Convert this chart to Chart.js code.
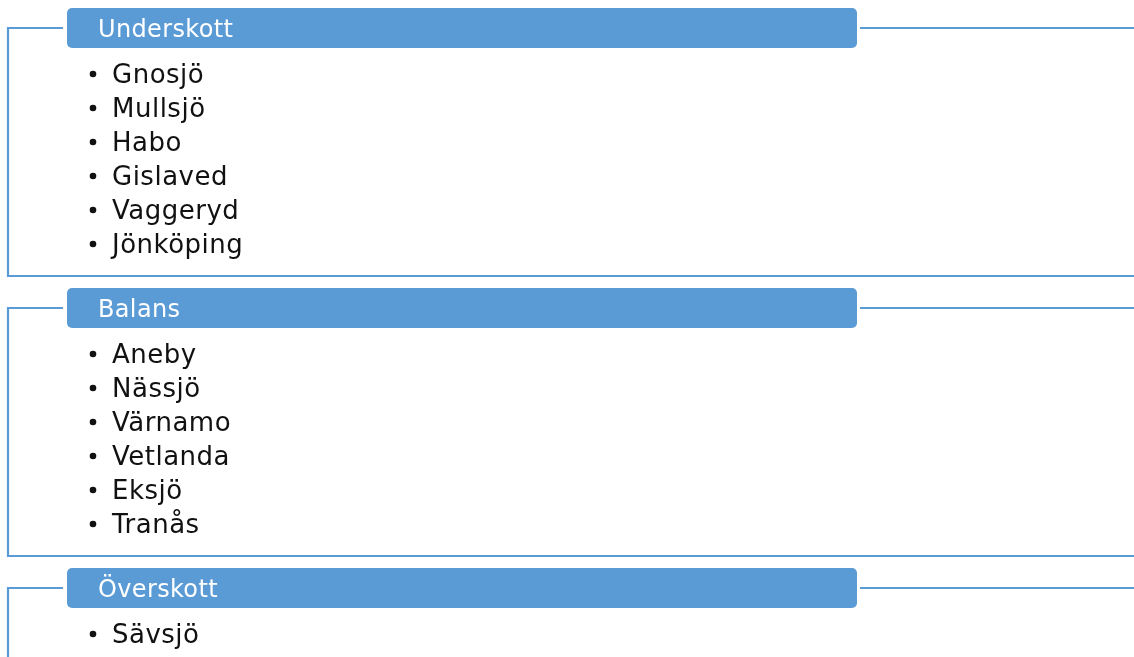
<!DOCTYPE html>
<html><head><meta charset="utf-8">
<script src="https://cdn.jsdelivr.net/npm/chart.js@4.4.1/dist/chart.umd.min.js"></script>
<style>html,body{margin:0;padding:0;background:#fff;overflow:hidden}#wrap{width:1134px;height:657px;position:relative}</style>
</head><body><div id="wrap"><canvas id="c" width="1134" height="657"></canvas></div>
<script>
// Data
const groups = ["Underskott", "Balans", "Överskott"];
const underskott = ["Gnosjö", "Mullsjö", "Habo", "Gislaved", "Vaggeryd", "Jönköping"];
const balans = ["Aneby", "Nässjö", "Värnamo", "Vetlanda", "Eksjö", "Tranås"];
const overskott = ["Sävsjö"];
const items = [underskott, balans, overskott];

const BLUE = "#5B9BD5";
const FONT = "'DejaVu Sans', sans-serif";

const diagramPlugin = {
  id: "diagram",
  afterDraw(chart) {
    const ctx = chart.ctx, xs = chart.scales.x, ys = chart.scales.y;
    const X = v => xs.getPixelForValue(v), Y = v => ys.getPixelForValue(v);
    const groupStep = 280;
    ctx.save();
    groups.forEach((g, k) => {
      const top = 28 + groupStep * k;
      const bottom = 276 + groupStep * k;
      // bracket outline
      ctx.strokeStyle = BLUE; ctx.lineWidth = 2.2;
      ctx.beginPath();
      ctx.moveTo(X(63), Y(top)); ctx.lineTo(X(8), Y(top)); ctx.lineTo(X(8), Y(bottom)); ctx.lineTo(X(1134), Y(bottom));
      ctx.stroke();
      ctx.beginPath();
      ctx.moveTo(X(860), Y(top)); ctx.lineTo(X(1134), Y(top));
      ctx.stroke();
      // header box
      ctx.fillStyle = BLUE;
      ctx.beginPath();
      ctx.roundRect(X(67), Y(top - 20), X(857) - X(67), Y(top + 20) - Y(top - 20), 5);
      ctx.fill();
      ctx.fillStyle = "#ffffff";
      ctx.font = "24px " + FONT;
      ctx.letterSpacing = "0.35px";
      ctx.textBaseline = "alphabetic";
      ctx.fillText(g, X(98), Y(top + 9));
      // items
      items[k].forEach((it, i) => {
        const base = top + 55 + 34 * i;
        ctx.fillStyle = "#111111";
        ctx.beginPath();
        ctx.arc(X(93), Y(base - 9), 3.3, 0, Math.PI * 2);
        ctx.fill();
        ctx.font = "26px " + FONT;
        ctx.letterSpacing = "0.5px";
        ctx.fillText(it, X(112), Y(base));
      });
    });
    ctx.restore();
  }
};

new Chart(document.getElementById("c"), {
  type: "scatter",
  data: { datasets: [{ data: [] }] },
  options: {
    responsive: false, animation: false,
    layout: { padding: 0 },
    plugins: { legend: { display: false }, tooltip: { enabled: false } },
    scales: {
      x: { type: "linear", min: 0, max: 1134, display: false },
      y: { type: "linear", min: 0, max: 657, reverse: true, display: false }
    }
  },
  plugins: [diagramPlugin]
});
</script></body></html>
